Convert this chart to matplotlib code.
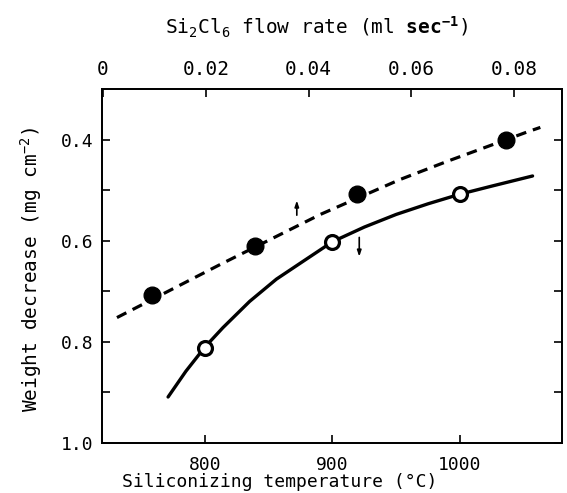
import matplotlib
matplotlib.use("Agg")
import matplotlib.pyplot as plt
import numpy as np

# flow-rate series (filled circles, top axis)
flow_rate = [0.0095, 0.0295, 0.0495, 0.0785]
flow_weight = [0.708, 0.610, 0.508, 0.400]
flow_curve_x = [0.0027, 0.0228, 0.0423, 0.0578, 0.0670, 0.0828, 0.0851]
flow_curve_y = [0.752, 0.647, 0.548, 0.479, 0.443, 0.384, 0.376]

# temperature series (open circles, bottom axis)
temp = [800, 900, 1000]
temp_weight = [0.812, 0.602, 0.508]
curve_t = [771, 785, 800, 814, 835, 856, 875, 900, 925, 950, 975, 1000, 1025, 1057]
curve_w = [0.909, 0.858, 0.810, 0.772, 0.720, 0.676, 0.644, 0.602, 0.573, 0.548,
           0.527, 0.508, 0.492, 0.472]

temp_ticks = [800, 900, 1000]
flow_ticks = [0, 0.02, 0.04, 0.06, 0.08]
flow_labels = ["0", "0.02", "0.04", "0.06", "0.08"]
weight_ticks = [0.4, 0.6, 0.8, 1.0]
weight_minor = [0.5, 0.7, 0.9]

plt.rcParams['font.family'] = ['DejaVu Sans Mono']
plt.rcParams['mathtext.fontset'] = 'custom'
plt.rcParams['mathtext.rm'] = 'DejaVu Sans Mono'
plt.rcParams['mathtext.bf'] = 'DejaVu Sans Mono:bold'
plt.rcParams['mathtext.it'] = 'DejaVu Sans Mono'

FS = 13

fig = plt.figure(figsize=(5.67, 4.93), dpi=100)
ax = fig.add_axes([0.180, 0.1014, 0.811, 0.7181])
ax.set_xlim(719.2, 1080)
ax.set_ylim(1.0, 0.3)

ax.plot(curve_t, curve_w, color='black', lw=2.4, solid_capstyle='round', zorder=2)
ax.plot(temp, temp_weight, 'o', ms=10, mfc='white', mec='black', mew=2.3, zorder=3)

ax.set_xticks(temp_ticks)
ax.set_yticks(weight_ticks)
ax.set_yticklabels(["0.4", "0.6", "0.8", "1.0"])
ax.set_yticks(weight_minor, minor=True)
ax.tick_params(axis='both', which='both', direction='in', length=6, width=1.2,
               labelsize=FS, right=True)
ax.tick_params(axis='x', pad=9)
ax.tick_params(axis='y', pad=6)
ax.set_xlabel("Siliconizing temperature (°C)", fontsize=FS)
ax.xaxis.set_label_coords(0.387, -0.085)
ax.set_ylabel("Weight decrease (mg cm$^{-2}$)", fontsize=14)
ax.yaxis.set_label_coords(-0.127, 0.49)

ax2 = ax.twiny()
ax2.set_xlim(-0.0002, 0.0893)
ax2.plot(flow_curve_x, flow_curve_y, color='black', lw=2.3, dashes=(3.3, 2.2), zorder=2)
ax2.plot(flow_rate, flow_weight, 'o', ms=12, color='black', zorder=3)
ax2.set_xticks(flow_ticks)
ax2.set_xticklabels(flow_labels)
ax2.tick_params(axis='x', direction='in', length=6, width=1.2, labelsize=14, pad=7)
ax2.set_xlabel("Si$_2$Cl$_6$ flow rate (ml $\\mathbf{sec^{-1}}$)", fontsize=14)
ax2.xaxis.set_label_coords(0.467, 1.155)

for a in (ax, ax2):
    for s in a.spines.values():
        s.set_linewidth(1.3)

# small hand-drawn direction arrows
ax.annotate("", xy=(872, 0.515), xytext=(872, 0.555),
            arrowprops=dict(arrowstyle='-|>,head_length=0.35,head_width=0.12', lw=1.2, color='black'))
ax.annotate("", xy=(921, 0.637), xytext=(921, 0.588),
            arrowprops=dict(arrowstyle='-|>,head_length=0.35,head_width=0.12', lw=1.2, color='black'))

fig.savefig("out.png", dpi=100)
